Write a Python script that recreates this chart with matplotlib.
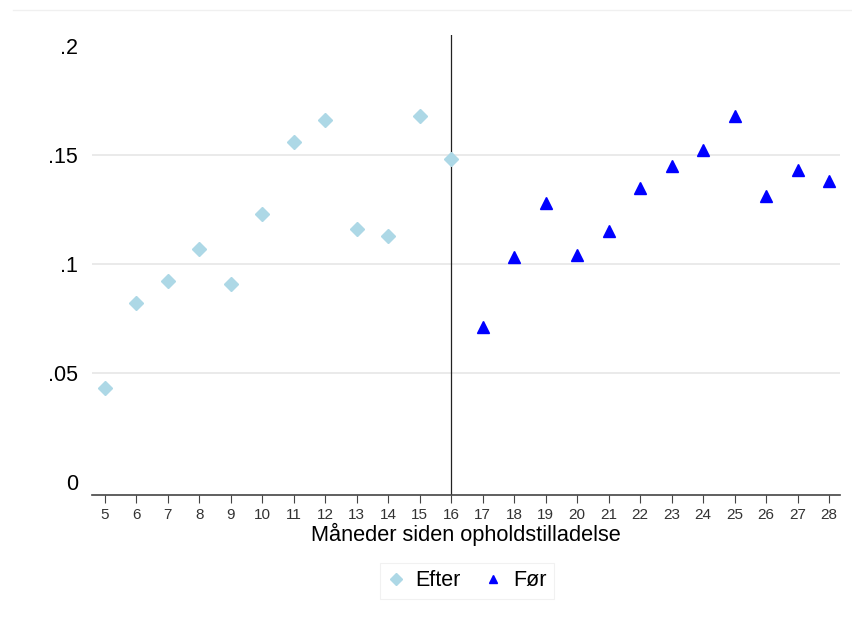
import matplotlib.pyplot as plt

plt.rcParams['font.family'] = ['Liberation Sans', 'DejaVu Sans']

# months since residence permit
months_efter = [5, 6, 7, 8, 9, 10, 11, 12, 13, 14, 15, 16]
values_efter = [0.043, 0.082, 0.092, 0.107, 0.091, 0.123, 0.156, 0.166, 0.116, 0.113, 0.168, 0.148]

months_foer = [17, 18, 19, 20, 21, 22, 23, 24, 25, 26, 27, 28]
values_foer = [0.071, 0.103, 0.128, 0.104, 0.115, 0.135, 0.145, 0.152, 0.168, 0.131, 0.143, 0.138]

yticks = [0, 0.05, 0.1, 0.15, 0.2]
ytick_labels = ['0', '.05', '.1', '.15', '.2']
xticks = list(range(5, 29))
cutoff = 16

fig = plt.figure(figsize=(8.52, 6.22), dpi=100)
ax = fig.add_axes([0.108, 0.204, 0.878, 0.740])

for y in [0.05, 0.1, 0.15]:
  ax.axhline(y, color='#e8e8e8', lw=1.3, zorder=0)

ax.axvline(cutoff, color='#222222', lw=0.9, zorder=1)

ax.plot(months_efter, values_efter, ls='none', marker='D', ms=7.5, color='#add8e6', label='Efter', zorder=3)
ax.plot(months_foer, values_foer, ls='none', marker='^', ms=8.5, color='#0000ff', label='Før', zorder=3)

ax.set_xlim(4.59, 28.35)
ax.set_ylim(-0.006, 0.205)

ax.set_yticks(yticks)
ax.set_yticklabels(ytick_labels, fontsize=15.5)
ax.tick_params(axis='y', length=0, pad=10)
ax.set_xticks(xticks)
ax.tick_params(axis='x', length=6, width=0.8, color='#444444', labelsize=11, pad=3, labelcolor='#333333')

for s in ['top', 'right', 'left']:
  ax.spines[s].set_visible(False)
ax.spines['bottom'].set_color('#444444')
ax.spines['bottom'].set_linewidth(1.2)

ax.set_xlabel('Måneder siden opholdstilladelse', fontsize=15.7, labelpad=1)

leg = fig.legend(loc='center', bbox_to_anchor=(467 / 852, 1 - 581 / 622), ncol=2,
                 fontsize=15.5, frameon=True, fancybox=False, handlelength=0.8,
                 handletextpad=0.5, columnspacing=1.1, borderpad=0.35, markerscale=0.75)
leg.get_frame().set_edgecolor('#eeeeee')
leg.get_frame().set_linewidth(0.8)

# faint outer line at top of the graph region
fig.add_artist(plt.Line2D([13 / 852, 1], [1 - 10 / 622, 1 - 10 / 622], color='#f0f0f0', lw=1))

fig.savefig('out.png', dpi=100)
